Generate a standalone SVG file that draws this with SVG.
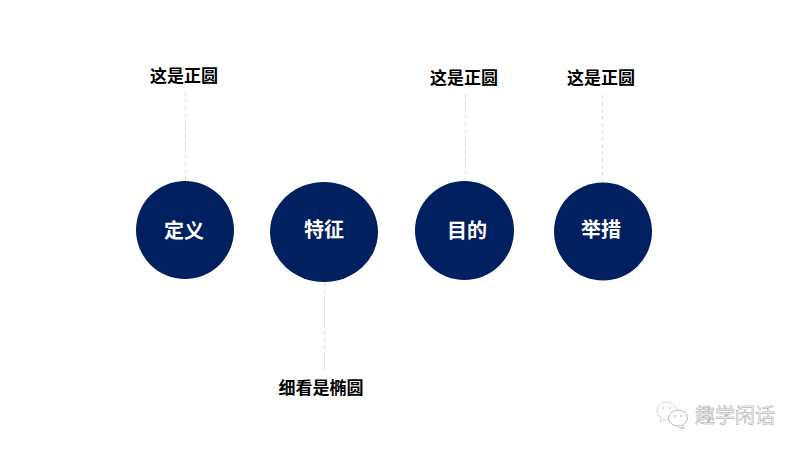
<svg xmlns="http://www.w3.org/2000/svg" width="800" height="450" viewBox="0 0 800 450">
<style>
.c{fill:#012060}
.l{font-family:"Liberation Sans","Noto Sans CJK SC",sans-serif;font-weight:700;font-size:17px;fill:#000;text-anchor:middle}
.t{font-family:"Liberation Sans","Noto Sans CJK SC",sans-serif;font-weight:700;font-size:20px;fill:#fff;text-anchor:middle}
.d{stroke:#dcdcdc;stroke-width:1;stroke-dasharray:4 3;fill:none}
</style>
<rect width="800" height="450" fill="#fff"/>
<g id="connectors">
<path class="d" d="M185.500 92V181"/>
<path class="d" d="M324.500 282V372"/>
<path class="d" d="M465.500 94V182"/>
<path class="d" d="M602.500 95V183"/>
</g>
<g id="node-dingyi"><circle class="c" cx="185" cy="230" r="49"/><text class="t" x="184" y="238">定义</text></g>
<g id="node-tezheng"><ellipse class="c" cx="324" cy="232" rx="54" ry="50"/><text class="t" x="324" y="237">特征</text></g>
<g id="node-mudi"><circle class="c" cx="464.500" cy="230.500" r="49.500"/><text class="t" x="467" y="238">目的</text></g>
<g id="node-jucuo"><circle class="c" cx="603" cy="231.500" r="49"/><text class="t" x="601" y="237">举措</text></g>
<g id="label-1"><text class="l" x="184" y="82">这是正圆</text></g>
<g id="label-2"><text class="l" x="321" y="394">细看是椭圆</text></g>
<g id="label-3"><text class="l" x="464" y="84">这是正圆</text></g>
<g id="label-4"><text class="l" x="601" y="84">这是正圆</text></g>
<g id="watermark">
<path d="M677 410c-2-5-6-8-10-8-6 0-10 4-10 9 0 3 2 5 4 7l-1 4 4-3c2 1 4 1 6 1" fill="none" stroke="#d4d4d4" stroke-width="1"/>
<ellipse cx="678" cy="418" rx="9.500" ry="8" fill="#fff" stroke="#bcbcbc" stroke-width="1"/>
<path d="M682 425l2 4-5-2" fill="#fff" stroke="#bcbcbc" stroke-width="1"/>
<circle cx="675" cy="416" r="1" fill="#bcbcbc"/><circle cx="681" cy="416" r="1" fill="#bcbcbc"/>
<circle cx="663" cy="408" r="1" fill="#d4d4d4"/><circle cx="670" cy="408" r="1" fill="#d4d4d4"/>
<text x="695" y="423" font-family="'Noto Sans CJK SC',sans-serif" font-size="20" fill="#fff" stroke="#a0a0a0" stroke-width=".5">趣学闲话</text>
</g>
</svg>
